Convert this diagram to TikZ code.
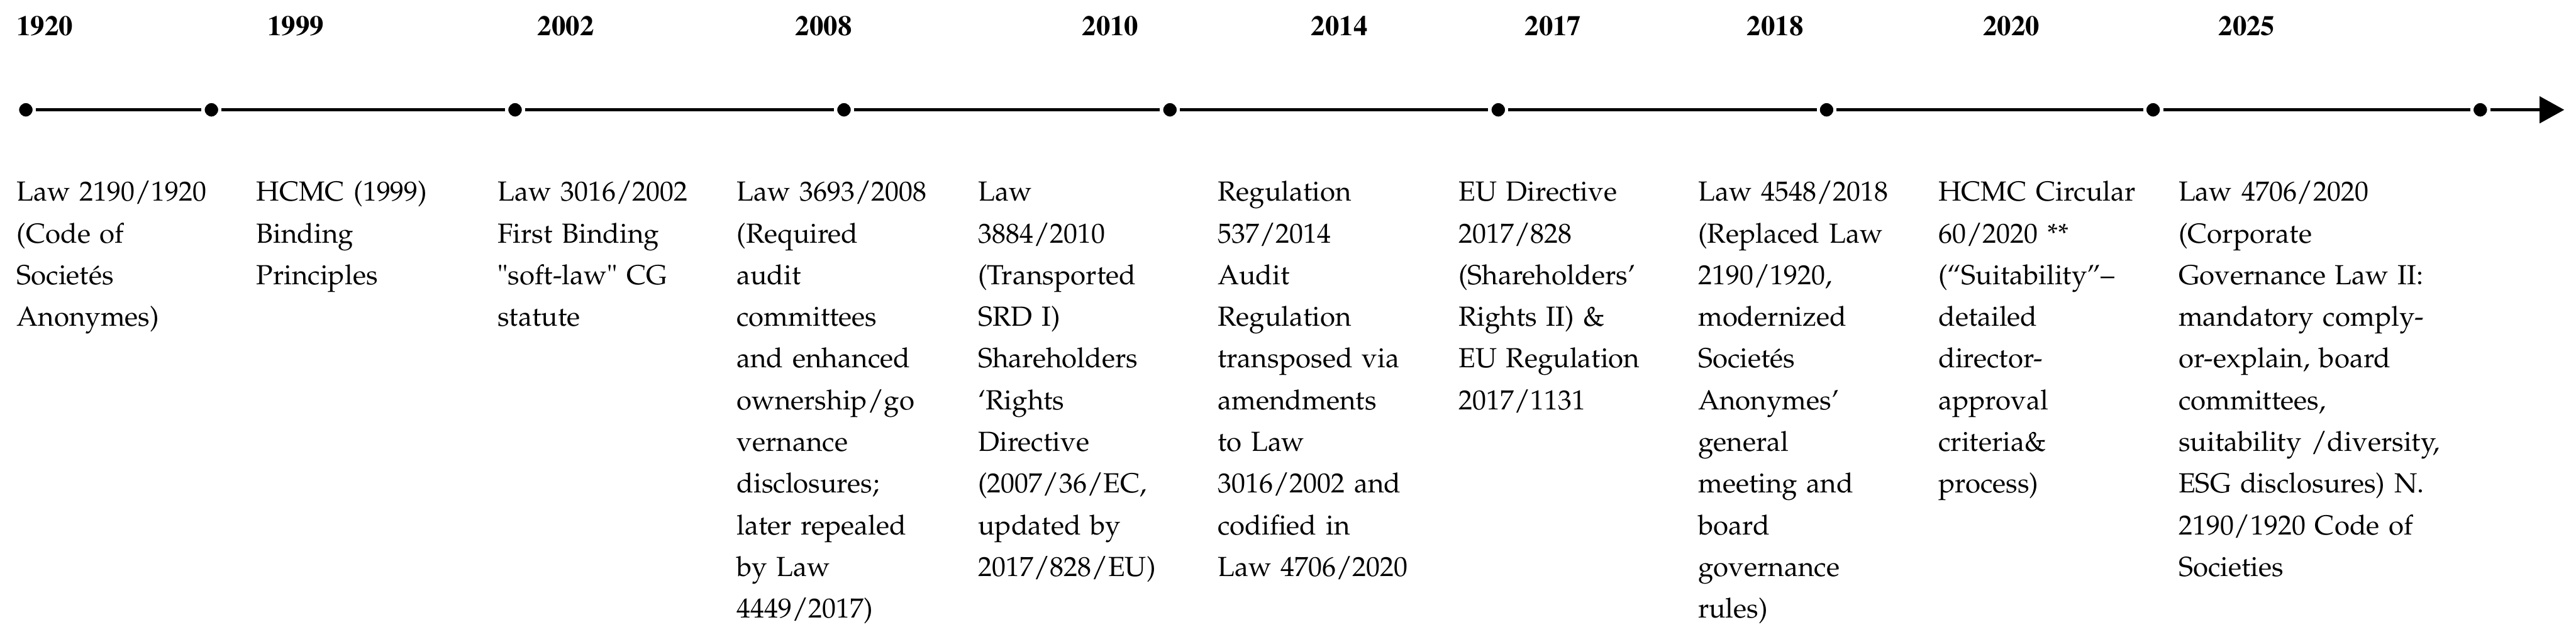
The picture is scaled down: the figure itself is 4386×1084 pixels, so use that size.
\documentclass[tikz,border=0pt]{standalone}
\usepackage[T1]{fontenc}
\usetikzlibrary{arrows.meta}

\begin{document}
\begin{tikzpicture}[
  x=0.5pt, y=-0.5pt,
  year/.style={font=\fontfamily{ptm}\fontsize{24}{28}\selectfont\bfseries,
    anchor=base west, inner sep=0pt},
  event/.style={font=\fontfamily{ppl}\fontsize{23.5}{35.5}\selectfont,
    anchor=north west, inner sep=0pt, align=left, text width=260pt,
    execute at begin node={\rule{0pt}{20pt}}},
  tick/.style={circle, fill=black, draw=white, line width=2.75pt,
    minimum size=14.25pt, inner sep=0pt},
  axis/.style={line width=2.6pt, draw=black},
]
  \path[use as bounding box, fill=white] (0,0) rectangle (4386,1084);

  % years above the axis
  \node[year] (year-1920) at (28,61) {1920};
  \node[year] (year-1999) at (455,61) {1999};
  \node[year] (year-2002) at (915,61) {2002};
  \node[year] (year-2008) at (1354,61) {2008};
  \node[year] (year-2010) at (1842,61) {2010};
  \node[year] (year-2014) at (2232,61) {2014};
  \node[year] (year-2017) at (2596,61) {2017};
  \node[year] (year-2018) at (2974,61) {2018};
  \node[year] (year-2020) at (3376,61) {2020};
  \node[year] (year-2025) at (3777,61) {2025};

  % axis with ticks
  \foreach \x [count=\i] in {44,360,877,1437,1992,2551,3110,3666,4223}
    \node[tick] (tick-\i) at (\x,187) {};
  \coordinate (axis-end) at (4366,187);
  \foreach \i [evaluate=\i as \j using int(\i+1)] in {1,...,8}
    \draw[axis] (tick-\i) -- (tick-\j);
  \draw[axis, -{Triangle[length=21pt, width=22.5pt]}] (tick-9) -- (axis-end);

  % events below the axis
  \node[event] (law-1920) at (28,302)
    {Law 2190/1920\\(Code of\\Societ\'es\\Anonymes)};
  \node[event] (hcmc-1999) at (436,302)
    {HCMC (1999)\\Binding\\Principles};
  \node[event] (law-2002) at (847,302)
    {Law 3016/2002\\First Binding\\\textquotedbl soft-law\textquotedbl{} CG\\statute};
  \node[event] (law-2008) at (1254,302)
    {Law 3693/2008\\(Required\\audit\\committees\\and enhanced\\ownership/go\\
    vernance\\disclosures;\\later repealed\\by Law\\4449/2017)};
  \node[event] (law-2010) at (1665,302)
    {Law\\3884/2010\\(Transported\\SRD I)\\Shareholders\\`Rights\\Directive\\
    (2007/36/EC,\\updated by\\2017/828/EU)};
  \node[event] (reg-2014) at (2073,302)
    {Regulation\\537/2014\\Audit\\Regulation\\transposed via\\amendments\\
    to Law\\3016/2002 and\\codified in\\Law 4706/2020};
  \node[event] (dir-2017) at (2483,302)
    {EU Directive\\2017/828\\(Shareholders'\\Rights II) \&\\EU Regulation\\2017/1131};
  \node[event] (law-2018) at (2891,302)
    {Law 4548/2018\\(Replaced Law\\2190/1920,\\modernized\\Societ\'es\\Anonymes'\\
    general\\meeting and\\board\\governance\\rules)};
  \node[event] (hcmc-2020) at (3300,302)
    {HCMC Circular\\60/2020 **\\(``Suitability''--\\detailed\\director-\\approval\\
    criteria\&\\process)};
  \node[event] (law-2020) at (3709,302)
    {Law 4706/2020\\(Corporate\\Governance Law II:\\mandatory comply-\\
    or-explain, board\\committees,\\suitability /diversity,\\
    ESG disclosures) N.\\2190/1920 Code of\\Societies};
\end{tikzpicture}
\end{document}
